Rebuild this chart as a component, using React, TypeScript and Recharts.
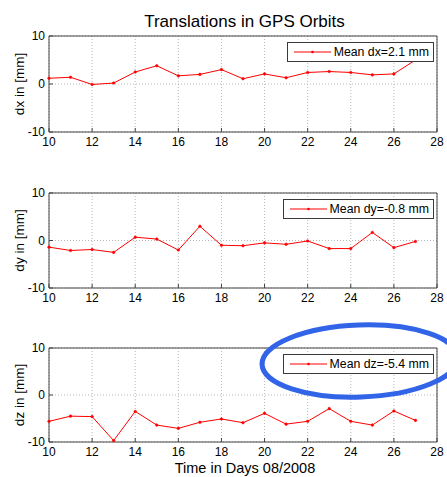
import React from 'react';
import { LineChart, Line, XAxis, YAxis, CartesianGrid, ReferenceArea, Customized } from 'recharts';

const days = [10, 11, 12, 13, 14, 15, 16, 17, 18, 19, 20, 21, 22, 23, 24, 25, 26, 27];
const dxValues = [1.2, 1.4, -0.1, 0.2, 2.5, 3.8, 1.7, 2.0, 3.0, 1.1, 2.1, 1.3, 2.4, 2.6, 2.4, 1.9, 2.1, 5.0];
const dyValues = [-1.4, -2.1, -1.9, -2.5, 0.7, 0.3, -2.0, 3.0, -1.0, -1.1, -0.5, -0.8, -0.1, -1.7, -1.7, 1.7, -1.5, -0.2];
const dzValues = [-5.6, -4.5, -4.6, -9.7, -3.5, -6.4, -7.1, -5.8, -5.1, -5.9, -3.9, -6.2, -5.6, -2.9, -5.6, -6.4, -3.4, -5.4];
const xTicks = [10, 12, 14, 16, 18, 20, 22, 24, 26, 28];
const yTicks = [-10, 0, 10];
const legendLabels = ['Mean dx=2.1 mm', 'Mean dy=-0.8 mm', 'Mean dz=-5.4 mm'];
const yLabels = ['dx in [mm]', 'dy in [mm]', 'dz in [mm]'];
const titleText = 'Translations in GPS Orbits';
const xLabelText = 'Time in Days 08/2008';

const FONT = '"Liberation Sans", Arial, Helvetica, sans-serif';
const W = 447;
const PLOT_LEFT = 49;
const PLOT_RIGHT = 437;
const MARGIN_TOP = 36;

type PanelProps = {
  values: number[];
  top: number;
  plotH: number;
  yLabel: string;
  legend: string;
  showTitle?: boolean;
  showXLabel?: boolean;
};

const Panel = ({ values, top, plotH, yLabel, legend, showTitle, showXLabel }: PanelProps) => {
  const data = days.map((d, i) => ({ day: d, v: values[i] }));
  const xAxisH = showXLabel ? 36 : 20;
  const H = MARGIN_TOP + plotH + xAxisH;
  return (
    <div style={{ position: 'absolute', left: 0, top, width: W, height: H }}>
      <LineChart
        width={W}
        height={H}
        data={data}
        margin={{ top: MARGIN_TOP, right: W - PLOT_RIGHT, left: 0, bottom: 0 }}
      >
        <CartesianGrid stroke="#b8b8b8" strokeDasharray="1 2" />
        <XAxis
          dataKey="day"
          type="number"
          domain={[10, 28]}
          ticks={xTicks}
          interval={0}
          height={xAxisH}
          axisLine={false}
          tickSize={-4}
          tickMargin={9}
          tickLine={{ stroke: '#444' }}
          tick={{ fontSize: 12, fill: '#000' }}
          label={
            showXLabel
              ? {
                  content: (p: any) => {
                    const vb = p.viewBox || {};
                    return (
                      <text x={vb.x + vb.width / 2 + 2} y={vb.y + 31} textAnchor="middle" fontSize={14.5} fill="#000">
                        {xLabelText}
                      </text>
                    );
                  },
                }
              : undefined
          }
        />
        <YAxis
          type="number"
          domain={[-10, 10]}
          ticks={yTicks}
          width={PLOT_LEFT}
          axisLine={false}
          tickSize={-4}
          tickMargin={8}
          tickLine={{ stroke: '#444' }}
          tick={{ fontSize: 12, fill: '#000' }}
          label={{
            content: (p: any) => {
              const vb = p.viewBox || {};
              const cy = vb.y + vb.height / 2;
              return (
                <text
                  x={19}
                  y={cy}
                  textAnchor="middle"
                  dominantBaseline="central"
                  fontSize={13.5}
                  fill="#000"
                  transform={`rotate(-90, 19, ${cy})`}
                >
                  {yLabel}
                </text>
              );
            },
          }}
        />
        <ReferenceArea x1={10} x2={28} y1={-10} y2={10} fill="none" stroke="#444" strokeWidth={1} />
        <Line
          type="linear"
          dataKey="v"
          stroke="#ff0000"
          strokeWidth={1}
          dot={{ r: 1.3, fill: '#ff0000', stroke: '#ff0000', strokeWidth: 0.5 }}
          isAnimationActive={false}
        />
        {showTitle ? (
          <Customized
            component={() => (
              <text x={244.5} y={27} textAnchor="middle" fontSize={17} fill="#000">
                {titleText}
              </text>
            )}
          />
        ) : null}
      </LineChart>
      <div
        style={{
          position: 'absolute',
          top: MARGIN_TOP + 6,
          right: W - 434,
          height: 18,
          border: '1px solid #3a3a3a',
          background: '#fff',
          display: 'flex',
          alignItems: 'center',
          paddingLeft: 6,
          paddingRight: 4,
          fontFamily: FONT,
          fontSize: 12.3,
          color: '#000',
          whiteSpace: 'nowrap',
        }}
      >
        <svg width={37} height={10} style={{ display: 'block' }}>
          <line x1={0} y1={5} x2={37} y2={5} stroke="#ff0000" strokeWidth={1} />
          <circle cx={18.5} cy={5} r={1.3} fill="#ff0000" />
        </svg>
        <span style={{ marginLeft: 3 }}>{legend}</span>
      </div>
    </div>
  );
};

export default function App() {
  return (
    <div
      style={{
        position: 'absolute',
        left: 0,
        top: 0,
        width: W,
        height: 477,
        background: '#fff',
        fontFamily: FONT,
        overflow: 'hidden',
      }}
    >
      <Panel values={dxValues} top={0} plotH={96} yLabel={yLabels[0]} legend={legendLabels[0]} showTitle />
      <Panel values={dyValues} top={157} plotH={95} yLabel={yLabels[1]} legend={legendLabels[1]} />
      <Panel values={dzValues} top={312} plotH={94} yLabel={yLabels[2]} legend={legendLabels[2]} showXLabel />
      <svg
        width={W}
        height={477}
        style={{ position: 'absolute', left: 0, top: 0, pointerEvents: 'none' }}
      >
        <ellipse
          cx={360}
          cy={361}
          rx={98}
          ry={36}
          fill="none"
          stroke="#3264e8"
          strokeWidth={5}
          transform="rotate(-2, 360, 361)"
        />
      </svg>
    </div>
  );
}
